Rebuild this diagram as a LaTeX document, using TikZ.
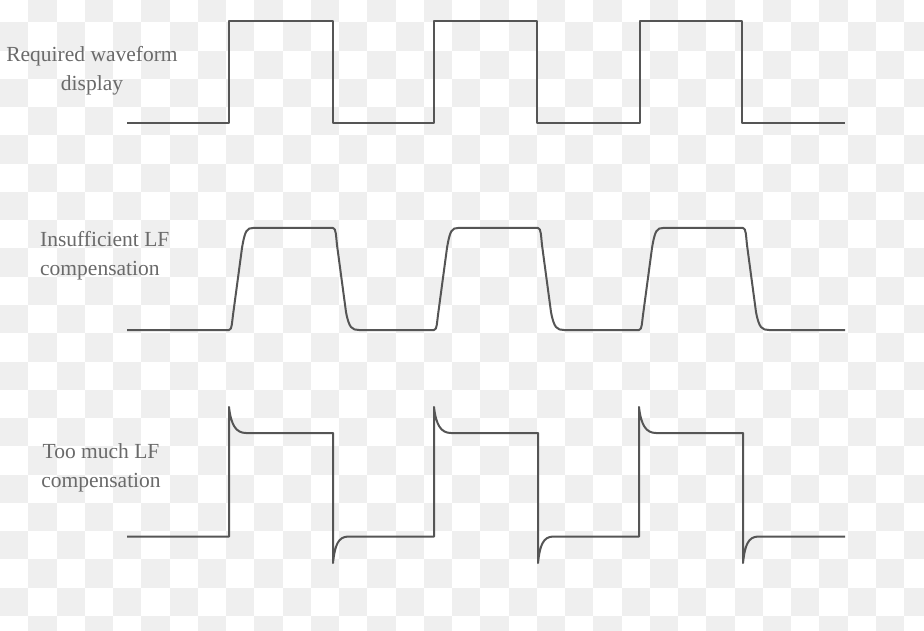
\documentclass[tikz,border=0pt]{standalone}
\usepackage{fontspec}
\newfontfamily\lblfont{Liberation Serif}
\definecolor{checkgray}{HTML}{EFEFEF}
\definecolor{wavegray}{HTML}{555555}
\definecolor{labelgray}{HTML}{6A6A6A}
\begin{document}
\begin{tikzpicture}[x=1pt,y=-1pt,
  wave/.style={draw=wavegray,line width=2pt,line join=round},
  lbl/.style={text=labelgray,font=\lblfont\fontsize{21.5}{29}\selectfont,inner sep=0pt}]
\useasboundingbox (0,0) rectangle (924,631);
% checkered background
\fill[white] (0,0) rectangle (924,631);
\begin{scope}
\clip (0,0) rectangle (924,631);
\foreach \i in {0,...,32}{
  \foreach \j in {0,...,22}{
    \pgfmathtruncatemacro{\cpar}{mod(\i+\j,2)}
    \ifnum\cpar=1
      \fill[checkgray] ({\i*28.25},{-5.75+28.25*\j}) rectangle ({(\i+1)*28.25},{-5.75+28.25*(\j+1)});
    \fi
  }
}
\end{scope}
% labels
\node[lbl,align=center] (l1) at (92,71) {Required waveform\\display};
\node[lbl,align=left,anchor=west] (l2) at (40,256) {Insufficient LF\\compensation};
\node[lbl,align=center] (l3) at (101,468) {Too much LF\\compensation};
% waveform 1: ideal square wave
\draw[wave] (127,123) -- (229,123) -- (229,21) -- (333,21) -- (333,123)
  -- (434,123) -- (434,21) -- (537,21) -- (537,123)
  -- (640,123) -- (640,21) -- (742,21) -- (742,123) -- (845,123);
% waveform 2: insufficient LF compensation
\draw[wave] (127,330)
  \foreach \d in {0,205,410}{
    -- ({229+\d},330) .. controls ({232+\d},330) and ({232+\d},322) .. ({233+\d},315)
    -- ({242+\d},248) .. controls ({245+\d},230) and ({247+\d},228) .. ({253+\d},228)
    -- ({333+\d},228) .. controls ({336+\d},228) and ({336+\d},236) .. ({337+\d},245)
    -- ({346+\d},312) .. controls ({349+\d},328) and ({352+\d},330) .. ({359+\d},330)
  } -- (845,330);
% waveform 3: too much LF compensation
\draw[wave] (127,536.5)
  \foreach \d in {0,205,410}{
    -- ({229+\d},536.5) -- ({229+\d},407)
    .. controls ({231+\d},425) and ({236+\d},433) .. ({246+\d},433)
    -- ({333+\d},433) -- ({333+\d},563)
    .. controls ({335+\d},545) and ({338+\d},537) .. ({348+\d},536.5)
  } -- (845,536.5);
\end{tikzpicture}
\end{document}
